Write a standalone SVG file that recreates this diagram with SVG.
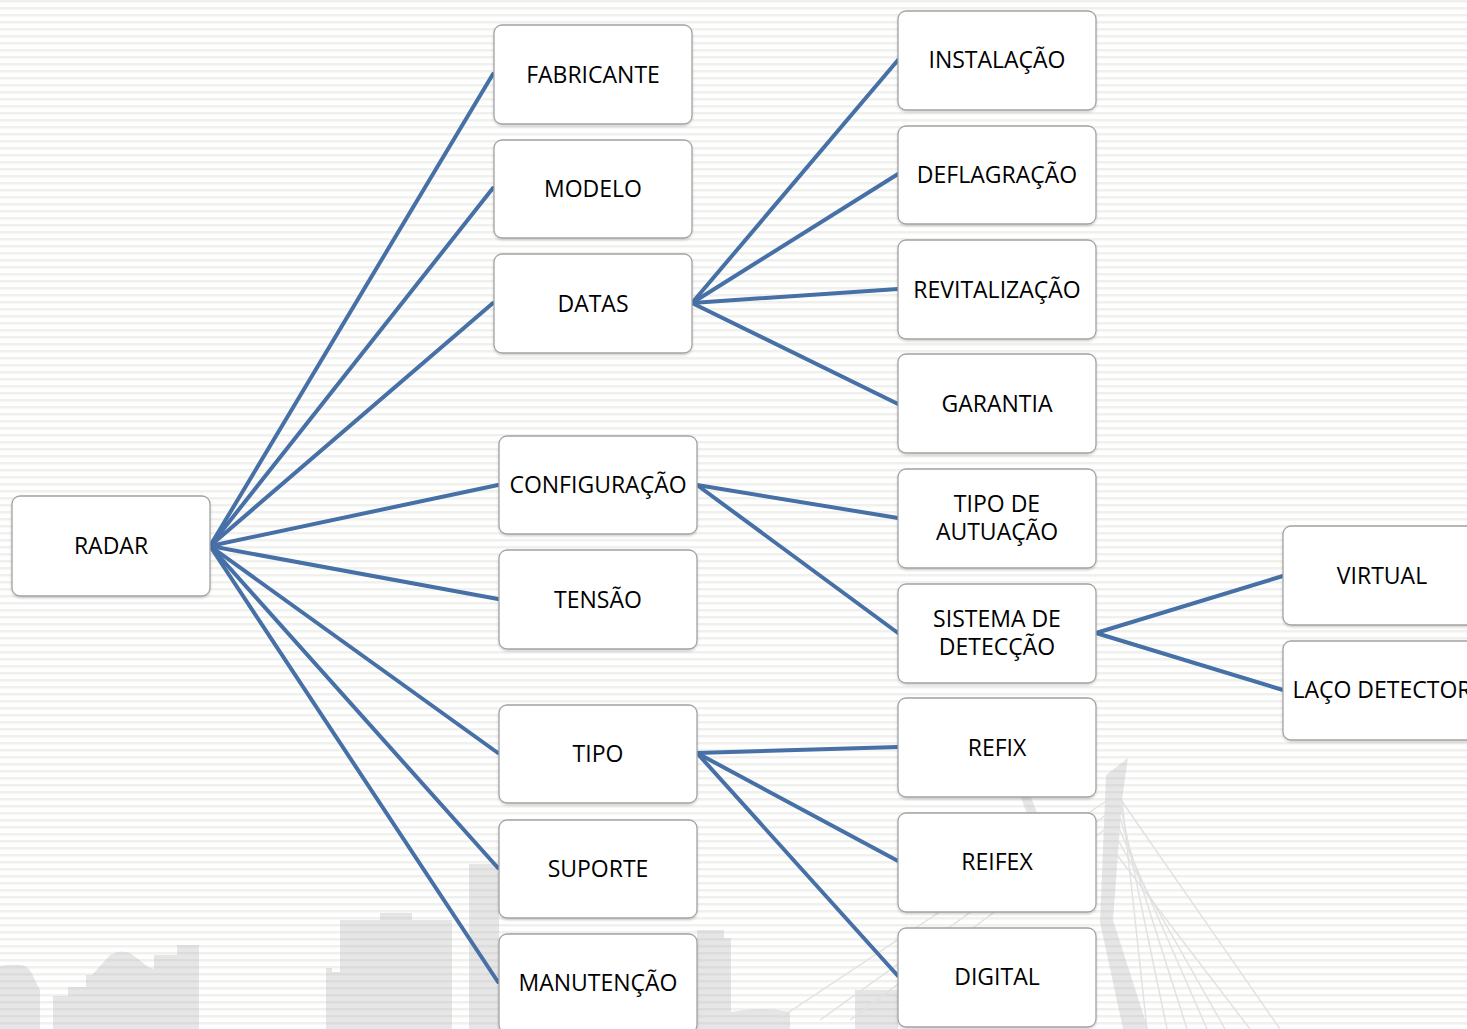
<svg xmlns="http://www.w3.org/2000/svg" width="1467" height="1029" viewBox="0 0 1467 1029">
<defs>
<pattern id="stripes" width="8" height="7" patternUnits="userSpaceOnUse">
<rect width="8" height="7" fill="#ffffff"/>
<rect y="0" width="8" height="2.5" fill="#f0f0ec"/>
</pattern>
<pattern id="gstripes" width="8" height="7" patternUnits="userSpaceOnUse">
<rect width="8" height="7" fill="#e6e6e6"/>
<rect y="0" width="8" height="2.5" fill="#dcdcdc"/>
</pattern>
<filter id="sh" x="-10%" y="-10%" width="120%" height="130%">
<feDropShadow dx="0" dy="1.5" stdDeviation="1.2" flood-color="#000" flood-opacity="0.18"/>
</filter>
</defs>
<style>
.node rect{fill:#ffffff;stroke:#a3a3a3;stroke-width:1.3;filter:url(#sh)}
.node text{font-family:"Open Sans","DejaVu Sans",sans-serif;font-size:23px;fill:#000;text-anchor:middle}
.conn line{stroke:#4670a6;stroke-width:4;stroke-linecap:round}
.bg{fill:url(#gstripes)}
.cable{stroke:#e2e2e2;stroke-width:1.5;fill:none}
</style>
<rect width="1467" height="1029" fill="url(#stripes)"/>
<g id="background-scene">
<path class="bg" d="M0,966 Q10,964 22,965 Q30,967 34,978 L40,990 L40,1029 L0,1029 Z"/>
<path class="bg" d="M53,1029 L53,996 L68,996 L68,987 L86,987 L86,975 L92,975 Q100,966 110,955 Q120,949 130,953 Q140,960 148,967 L154,969 L154,955 L177,955 L177,945 L199,945 L199,1029 Z"/>
<path class="bg" d="M326,1029 L326,968 L332,968 L332,972 L340,972 L340,920 L380,920 L380,913 L412,913 L412,920 L452,920 L452,1029 Z"/>
<rect class="bg" x="469" y="864" width="30" height="165"/>
<path class="bg" d="M697,930 L724,930 L724,938 L731,938 L731,1029 L697,1029 Z"/>
<path class="bg" d="M731,1029 L731,1012 Q760,1006 790,1012 L790,1029 Z"/>
<rect class="bg" x="855" y="990" width="43" height="39"/>
<path class="bg" d="M1020,795 L1030,795 L1060,870 L1048,870 Z"/>
<path class="bg" d="M1106,775 L1128,758 L1122,800 L1113,920 L1148,1029 L1123,1029 L1100,922 Z"/>
<g class="cable">
<line x1="1122" y1="800" x2="1147" y2="1029"/>
<line x1="1121" y1="808" x2="1167" y2="1029"/>
<line x1="1120" y1="818" x2="1187" y2="1029"/>
<line x1="1119" y1="828" x2="1207" y2="1029"/>
<line x1="1118" y1="840" x2="1225" y2="1029"/>
<line x1="1117" y1="855" x2="1250" y2="1029"/>
<line x1="1121" y1="800" x2="1280" y2="1029"/>
<line x1="1108" y1="800" x2="780" y2="1018"/>
<line x1="1106" y1="815" x2="820" y2="1020"/>
<line x1="1104" y1="830" x2="850" y2="1020"/>
</g>
</g>
<g id="connectors" class="conn">
<line x1="210" y1="546" x2="493" y2="74"/>
<line x1="210" y1="546" x2="493" y2="188"/>
<line x1="210" y1="546" x2="493" y2="303"/>
<line x1="210" y1="546" x2="498" y2="485"/>
<line x1="210" y1="546" x2="498" y2="599"/>
<line x1="210" y1="546" x2="498" y2="753"/>
<line x1="210" y1="546" x2="498" y2="868"/>
<line x1="210" y1="546" x2="498" y2="982"/>
<line x1="692" y1="303" x2="898" y2="60"/>
<line x1="692" y1="303" x2="898" y2="174"/>
<line x1="692" y1="303" x2="898" y2="289"/>
<line x1="692" y1="303" x2="898" y2="404"/>
<line x1="697" y1="485" x2="898" y2="518"/>
<line x1="697" y1="485" x2="898" y2="633"/>
<line x1="697" y1="753" x2="898" y2="747"/>
<line x1="697" y1="753" x2="898" y2="861"/>
<line x1="697" y1="753" x2="898" y2="976"/>
<line x1="1096" y1="633" x2="1283" y2="576"/>
<line x1="1096" y1="633" x2="1283" y2="690"/>
</g>
<g id="radar" class="node"><rect x="12" y="496" width="198" height="100" rx="8"/><text x="111" y="554">RADAR</text></g>
<g id="fabricante" class="node"><rect x="494" y="25" width="198" height="99" rx="8"/><text x="593" y="83">FABRICANTE</text></g>
<g id="modelo" class="node"><rect x="494" y="140" width="198" height="98" rx="8"/><text x="593" y="197">MODELO</text></g>
<g id="datas" class="node"><rect x="494" y="254" width="198" height="99" rx="8"/><text x="593" y="312">DATAS</text></g>
<g id="configuracao" class="node"><rect x="499" y="436" width="198" height="98" rx="8"/><text x="598" y="493">CONFIGURAÇÃO</text></g>
<g id="tensao" class="node"><rect x="499" y="550" width="198" height="99" rx="8"/><text x="598" y="608">TENSÃO</text></g>
<g id="tipo" class="node"><rect x="499" y="705" width="198" height="98" rx="8"/><text x="598" y="762">TIPO</text></g>
<g id="suporte" class="node"><rect x="499" y="820" width="198" height="98" rx="8"/><text x="598" y="877">SUPORTE</text></g>
<g id="manutencao" class="node"><rect x="499" y="934" width="198" height="99" rx="8"/><text x="598" y="991">MANUTENÇÃO</text></g>
<g id="instalacao" class="node"><rect x="898" y="11" width="198" height="99" rx="8"/><text x="997" y="68">INSTALAÇÃO</text></g>
<g id="deflagracao" class="node"><rect x="898" y="126" width="198" height="98" rx="8"/><text x="997" y="183">DEFLAGRAÇÃO</text></g>
<g id="revitalizacao" class="node"><rect x="898" y="240" width="198" height="99" rx="8"/><text x="997" y="298">REVITALIZAÇÃO</text></g>
<g id="garantia" class="node"><rect x="898" y="354" width="198" height="99" rx="8"/><text x="997" y="412">GARANTIA</text></g>
<g id="tipo-de-autuacao" class="node"><rect x="898" y="469" width="198" height="99" rx="8"/><text x="997" y="512">TIPO DE</text><text x="997" y="540">AUTUAÇÃO</text></g>
<g id="sistema-de-deteccao" class="node"><rect x="898" y="584" width="198" height="99" rx="8"/><text x="997" y="627">SISTEMA DE</text><text x="997" y="655">DETECÇÃO</text></g>
<g id="refix" class="node"><rect x="898" y="698" width="198" height="99" rx="8"/><text x="997" y="756">REFIX</text></g>
<g id="reifex" class="node"><rect x="898" y="813" width="198" height="99" rx="8"/><text x="997" y="870">REIFEX</text></g>
<g id="digital" class="node"><rect x="898" y="928" width="198" height="99" rx="8"/><text x="997" y="985">DIGITAL</text></g>
<g id="virtual" class="node"><rect x="1283" y="526" width="198" height="99" rx="8"/><text x="1382" y="584">VIRTUAL</text></g>
<g id="laco-detector" class="node"><rect x="1283" y="641" width="198" height="99" rx="8"/><text x="1382" y="698">LAÇO DETECTOR</text></g>
</svg>
